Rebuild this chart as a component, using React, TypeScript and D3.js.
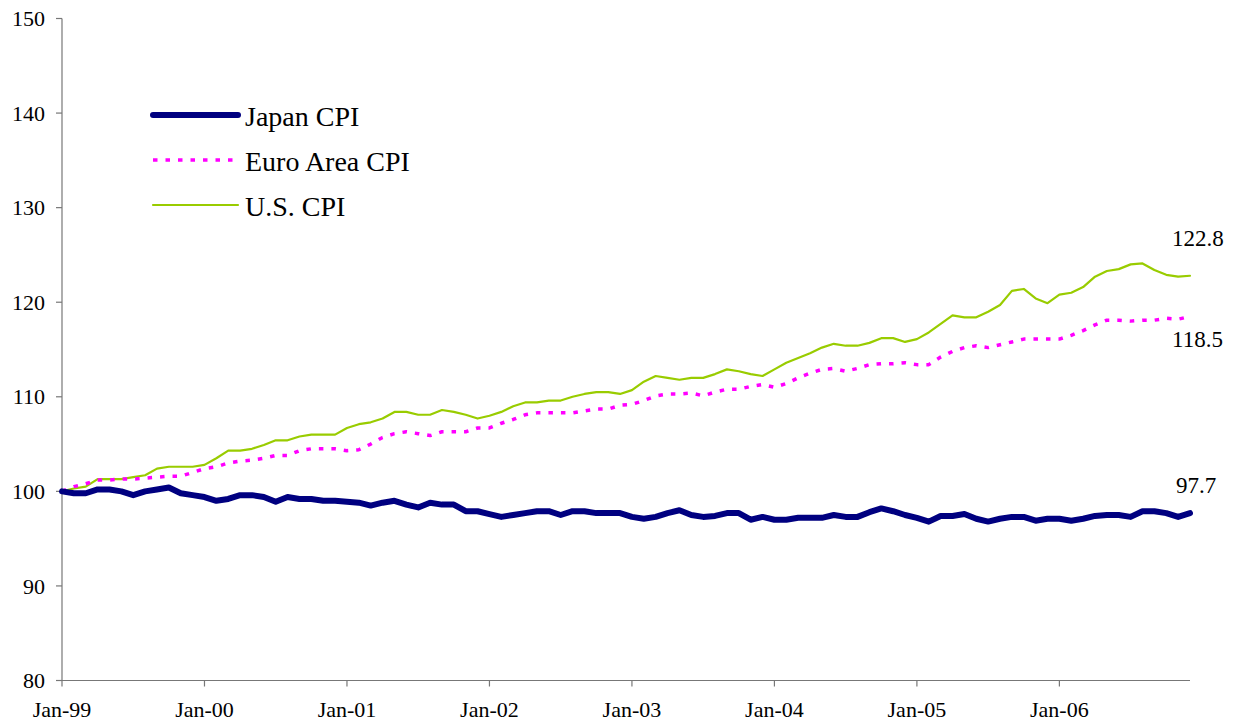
import React from "react";
import * as d3 from "d3";

const width = 1240;
const height = 728;
const margin = { top: 18.5, right: 50, bottom: 47.5, left: 62 };

const monthLabels = ["Jan-99", "Jan-00", "Jan-01", "Jan-02", "Jan-03", "Jan-04", "Jan-05", "Jan-06"];
const yTicks = [80, 90, 100, 110, 120, 130, 140, 150];

// monthly index, Jan-99 = 100
const japanCpi = [
  100.0, 99.8, 99.8, 100.2, 100.2, 100.0, 99.6, 100.0, 100.2, 100.4, 99.8, 99.6,
  99.4, 99.0, 99.2, 99.6, 99.6, 99.4, 98.9, 99.4, 99.2, 99.2, 99.0, 99.0,
  98.9, 98.8, 98.5, 98.8, 99.0, 98.6, 98.3, 98.8, 98.6, 98.6, 97.9, 97.9,
  97.6, 97.3, 97.5, 97.7, 97.9, 97.9, 97.5, 97.9, 97.9, 97.7, 97.7, 97.7,
  97.3, 97.1, 97.3, 97.7, 98.0, 97.5, 97.3, 97.4, 97.7, 97.7, 97.0, 97.3,
  97.0, 97.0, 97.2, 97.2, 97.2, 97.5, 97.3, 97.3, 97.8, 98.2, 97.9, 97.5,
  97.2, 96.8, 97.4, 97.4, 97.6, 97.1, 96.8, 97.1, 97.3, 97.3, 96.9, 97.1,
  97.1, 96.9, 97.1, 97.4, 97.5, 97.5, 97.3, 97.9, 97.9, 97.7, 97.3, 97.7
];

const euroCpi = [
  100.0, 100.5, 100.8, 101.2, 101.2, 101.3, 101.3, 101.4, 101.5, 101.6, 101.6, 102.0,
  102.4, 102.6, 103.0, 103.2, 103.3, 103.5, 103.8, 103.8, 104.3, 104.5, 104.5, 104.5,
  104.3, 104.4, 105.0, 105.7, 106.1, 106.3, 106.1, 105.9, 106.3, 106.3, 106.3, 106.7,
  106.7, 107.2, 107.6, 108.1, 108.3, 108.3, 108.3, 108.3, 108.5, 108.7, 108.7, 109.1,
  109.2, 109.6, 110.1, 110.3, 110.3, 110.4, 110.1, 110.5, 110.8, 110.8, 111.1, 111.3,
  111.0, 111.4, 112.0, 112.5, 112.9, 113.0, 112.7, 113.0, 113.4, 113.5, 113.5, 113.6,
  113.4, 113.4, 114.2, 114.8, 115.2, 115.4, 115.2, 115.5, 115.8, 116.1, 116.1, 116.1,
  116.1, 116.5, 117.0, 117.6, 118.1, 118.1, 118.0, 118.1, 118.1, 118.3, 118.2, 118.5
];

const usCpi = [
  100.0, 100.3, 100.5, 101.3, 101.3, 101.3, 101.5, 101.7, 102.4, 102.6, 102.6, 102.6,
  102.8, 103.5, 104.3, 104.3, 104.5, 104.9, 105.4, 105.4, 105.8, 106.0, 106.0, 106.0,
  106.7, 107.1, 107.3, 107.7, 108.4, 108.4, 108.1, 108.1, 108.6, 108.4, 108.1, 107.7,
  108.0, 108.4, 109.0, 109.4, 109.4, 109.6, 109.6, 110.0, 110.3, 110.5, 110.5, 110.3,
  110.7, 111.6, 112.2, 112.0, 111.8, 112.0, 112.0, 112.4, 112.9, 112.7, 112.4, 112.2,
  112.9, 113.6, 114.1, 114.6, 115.2, 115.6, 115.4, 115.4, 115.7, 116.2, 116.2, 115.8,
  116.1, 116.8, 117.7, 118.6, 118.4, 118.4, 119.0, 119.7, 121.2, 121.4, 120.4, 119.9,
  120.8, 121.0, 121.6, 122.7, 123.3, 123.5, 124.0, 124.1, 123.4, 122.9, 122.7, 122.8
];

const series = [
  { name: "Japan CPI", values: japanCpi, color: "#000080", width: 6, dash: null },
  { name: "Euro Area CPI", values: euroCpi, color: "#FF00FF", width: 3.5, dash: "4.5 8" },
  { name: "U.S. CPI", values: usCpi, color: "#99CC00", width: 2.2, dash: null }
];

const textStyle = { fontFamily: '"Liberation Serif", "Times New Roman", serif' };
const axisColor = "#777";

export default function App() {
  const x = d3
    .scaleLinear()
    .domain([0, 95])
    .range([margin.left, width - margin.right]);
  const y = d3
    .scaleLinear()
    .domain([80, 150])
    .range([height - margin.bottom, margin.top]);

  const line = d3
    .line<number>()
    .x((d, i) => x(i))
    .y((d) => y(d));

  const x0 = margin.left;
  const yBottom = y(80);
  const last = 95;

  // draw order: US, Euro, Japan on top
  const drawOrder = [series[2], series[1], series[0]];

  return (
    <svg
      width={width}
      height={height}
      style={{ position: "absolute", left: 0, top: 0, background: "#fff" }}
    >
      {/* y axis */}
      <line x1={x0} x2={x0} y1={y(150)} y2={yBottom} stroke={axisColor} strokeWidth={1.2} />
      {yTicks.map((t) => (
        <g key={t}>
          <line x1={x0 - 6} x2={x0} y1={y(t)} y2={y(t)} stroke={axisColor} strokeWidth={1.2} />
          <text x={45} y={y(t)} dy="0.35em" textAnchor="end" fontSize={22} fill="#000" style={textStyle}>
            {t}
          </text>
        </g>
      ))}

      {/* x axis */}
      <line x1={x0} x2={x(last)} y1={yBottom} y2={yBottom} stroke={axisColor} strokeWidth={1.2} />
      {monthLabels.map((lab, k) => (
        <g key={lab}>
          <line x1={x(k * 12)} x2={x(k * 12)} y1={yBottom} y2={yBottom + 6} stroke={axisColor} strokeWidth={1.2} />
          <text x={x(k * 12)} y={717} textAnchor="middle" fontSize={22} fill="#000" style={textStyle}>
            {lab}
          </text>
        </g>
      ))}

      {/* lines */}
      {drawOrder.map((s) => (
        <path
          key={s.name}
          d={line(s.values) || ""}
          fill="none"
          stroke={s.color}
          strokeWidth={s.width}
          strokeDasharray={s.dash || undefined}
          strokeLinejoin="round"
          strokeLinecap={s.dash ? "butt" : "round"}
        />
      ))}

      {/* end labels */}
      <text x={1172} y={246} fontSize={23} fill="#000" style={textStyle}>
        {usCpi[last].toFixed(1)}
      </text>
      <text x={1172} y={347} fontSize={23} fill="#000" style={textStyle}>
        {euroCpi[last].toFixed(1)}
      </text>
      <text x={1176} y={493} fontSize={23} fill="#000" style={textStyle}>
        {japanCpi[last].toFixed(1)}
      </text>

      {/* legend */}
      {series.map((s, i) => {
        const ly = [115, 160, 205][i];
        return (
          <g key={s.name}>
            <line
              x1={153}
              x2={238}
              y1={ly}
              y2={ly}
              stroke={s.color}
              strokeWidth={s.width}
              strokeDasharray={s.dash || undefined}
              strokeLinecap={s.dash ? "butt" : "round"}
            />
            <text x={245} y={ly + 11} fontSize={28} fill="#000" style={textStyle}>
              {s.name}
            </text>
          </g>
        );
      })}
    </svg>
  );
}
